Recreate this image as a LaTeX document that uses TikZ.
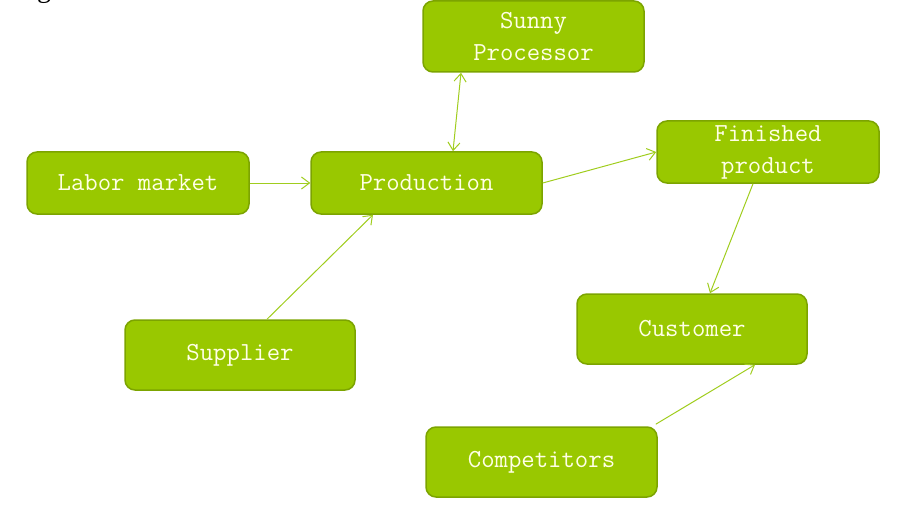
\documentclass[tikz,border=0pt]{standalone}
\usepackage{fontspec}
\setmainfont{Liberation Serif}
\usetikzlibrary{arrows.meta}
\definecolor{boxfill}{RGB}{153,200,0}
\definecolor{boxline}{RGB}{124,164,0}
\definecolor{linkcol}{RGB}{160,205,30}
\definecolor{txtcol}{RGB}{255,255,230}
\tikzset{
  box/.style={draw=boxline, line width=1.5pt, fill=boxfill, rounded corners=10pt,
    text=txtcol, font=\ttfamily\fontsize{26}{32}\selectfont, align=center,
    inner sep=0pt, minimum width=#1},
  link/.style={draw=linkcol, line width=1pt, -{Straight Barb[length=8pt,width=12pt]}},
  link2/.style={draw=linkcol, line width=1pt, {Straight Barb[length=8pt,width=12pt]}-{Straight Barb[length=8pt,width=12pt]}}
}
\begin{document}
\begin{tikzpicture}[x=1pt,y=-1pt]
\useasboundingbox (0,0) rectangle (913,516);
\node[anchor=base, font=\fontsize{28}{30}\selectfont] (cut) at (44,-2) {g};
\node[box=221pt, minimum height=71pt] (sunny) at (533.5,36.5) {\raisebox{-1.5pt}{Sunny}\\\raisebox{-1.5pt}{Processor}};
\node[box=222pt, minimum height=62pt] (labor) at (138,183) {\raisebox{-1.5pt}{Labor market}};
\node[box=231pt, minimum height=62pt] (prod) at (426.5,183) {\raisebox{-1.5pt}{Production}};
\node[box=222pt, minimum height=62pt] (fin) at (768,152) {\raisebox{-1.5pt}{Finished}\\\raisebox{-1.5pt}{product}};
\node[box=230pt, minimum height=70pt] (sup) at (240,355) {\raisebox{-1.5pt}{Supplier}};
\node[box=230pt, minimum height=70pt] (cust) at (692,329) {\raisebox{-1.5pt}{Customer}};
\node[box=231pt, minimum height=70pt] (comp) at (541.5,462) {\raisebox{-1.5pt}{Competitors}};
\draw[link2] ([xshift=-72.5pt]sunny.south) -- ([xshift=26.5pt]prod.north);
\draw[link] (labor.east) -- (prod.west);
\draw[link] (prod.east) -- (fin.west);
\draw[link] ([xshift=-15pt]fin.south) -- ([xshift=18pt]cust.north);
\draw[link] ([xshift=27pt]sup.north) -- ([xshift=-53.5pt]prod.south);
\draw[link] ([xshift=-2pt,yshift=2pt]comp.north east) -- ([xshift=63pt]cust.south);
\end{tikzpicture}
\end{document}
